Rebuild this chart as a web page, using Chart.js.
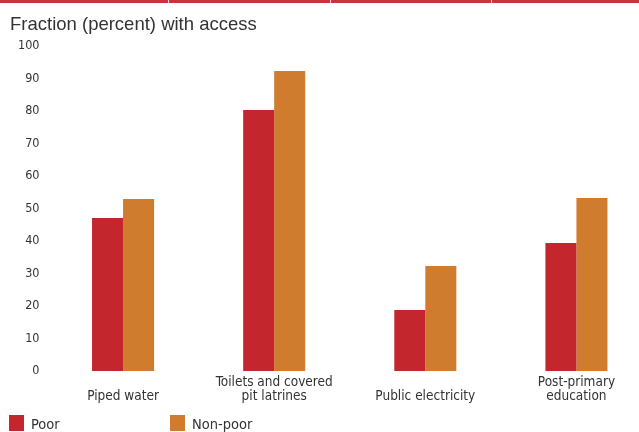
<!DOCTYPE html>
<html>
<head>
<meta charset="utf-8">
<script src="https://cdn.jsdelivr.net/npm/chart.js@4"></script>
<style>
  html, body { margin: 0; padding: 0; background: #fff; overflow: hidden; }
  #wrap { position: relative; width: 652px; height: 432px; }
</style>
</head>
<body>
<div id="wrap"><canvas id="chart"></canvas></div>
<script>
const categories = [['', 'Piped water'], ['Toilets and covered', 'pit latrines'], ['', 'Public electricity'], ['Post-primary', 'education']];
const poor = [47.1, 80.3, 18.8, 39.4];
const nonPoor = [52.9, 92.3, 32.3, 53.2];
const yTicks = [0, 10, 20, 30, 40, 50, 60, 70, 80, 90, 100];
const title = 'Fraction (percent) with access';

const RED = '#c4262e';
const ORANGE = '#d07c2e';
const TEXT = '#333333';
const NARROW = '"DejaVu Sans Condensed", sans-serif';

// title, red rule on top and the legend at the bottom
const decor = {
    id: 'decor',
    afterDraw(chart) {
        const ctx = chart.ctx;
        ctx.save();
        ctx.fillStyle = '#c8343b';
        ctx.fillRect(0, 0, chart.width, 3);
        ctx.fillStyle = '#f0d0d0';
        [168, 330, 491].forEach(x => ctx.fillRect(x, 0, 1, 3));

        ctx.fillStyle = TEXT;
        ctx.font = '18.5px "Liberation Sans", Arial, sans-serif';
        ctx.textBaseline = 'alphabetic';
        ctx.fillText(title, 10, 30);

        const legendX = [9, 170];
        ctx.font = '14.5px ' + NARROW;
        chart.data.datasets.forEach((ds, i) => {
            ctx.fillStyle = ds.backgroundColor;
            ctx.fillRect(legendX[i], 415, 15, 16);
            ctx.fillStyle = TEXT;
            ctx.fillText(ds.label, legendX[i] + 22, 428.5);
        });
        ctx.restore();
    }
};

new Chart(document.getElementById('chart'), {
    type: 'bar',
    data: {
        labels: categories,
        datasets: [
            { label: 'Poor', data: poor, backgroundColor: RED },
            { label: 'Non-poor', data: nonPoor, backgroundColor: ORANGE }
        ]
    },
    options: {
        responsive: true,
        maintainAspectRatio: false,
        animation: false,
        layout: { padding: { top: 46, left: 0, right: 0, bottom: 0 } },
        datasets: { bar: { barPercentage: 1, categoryPercentage: 62 / 151 } },
        plugins: {
            legend: { display: false },
            title: { display: false },
            tooltip: { enabled: false }
        },
        scales: {
            x: {
                grid: { display: false, drawTicks: false },
                border: { display: false },
                ticks: {
                    color: TEXT,
                    padding: 5,
                    maxRotation: 0,
                    autoSkip: false,
                    font: { family: NARROW, size: 13.5, lineHeight: '13.5px' }
                },
                afterFit: s => { s.height = 61; }
            },
            y: {
                min: 0,
                max: 100,
                grid: { display: false, drawTicks: false },
                border: { display: false },
                afterBuildTicks: s => { s.ticks = yTicks.map(v => ({ value: v })); },
                ticks: {
                    color: TEXT,
                    padding: 8,
                    font: { family: NARROW, size: 12.5 }
                },
                afterFit: s => { s.width = 47.5; }
            }
        }
    },
    plugins: [decor]
});
</script>
</body>
</html>
